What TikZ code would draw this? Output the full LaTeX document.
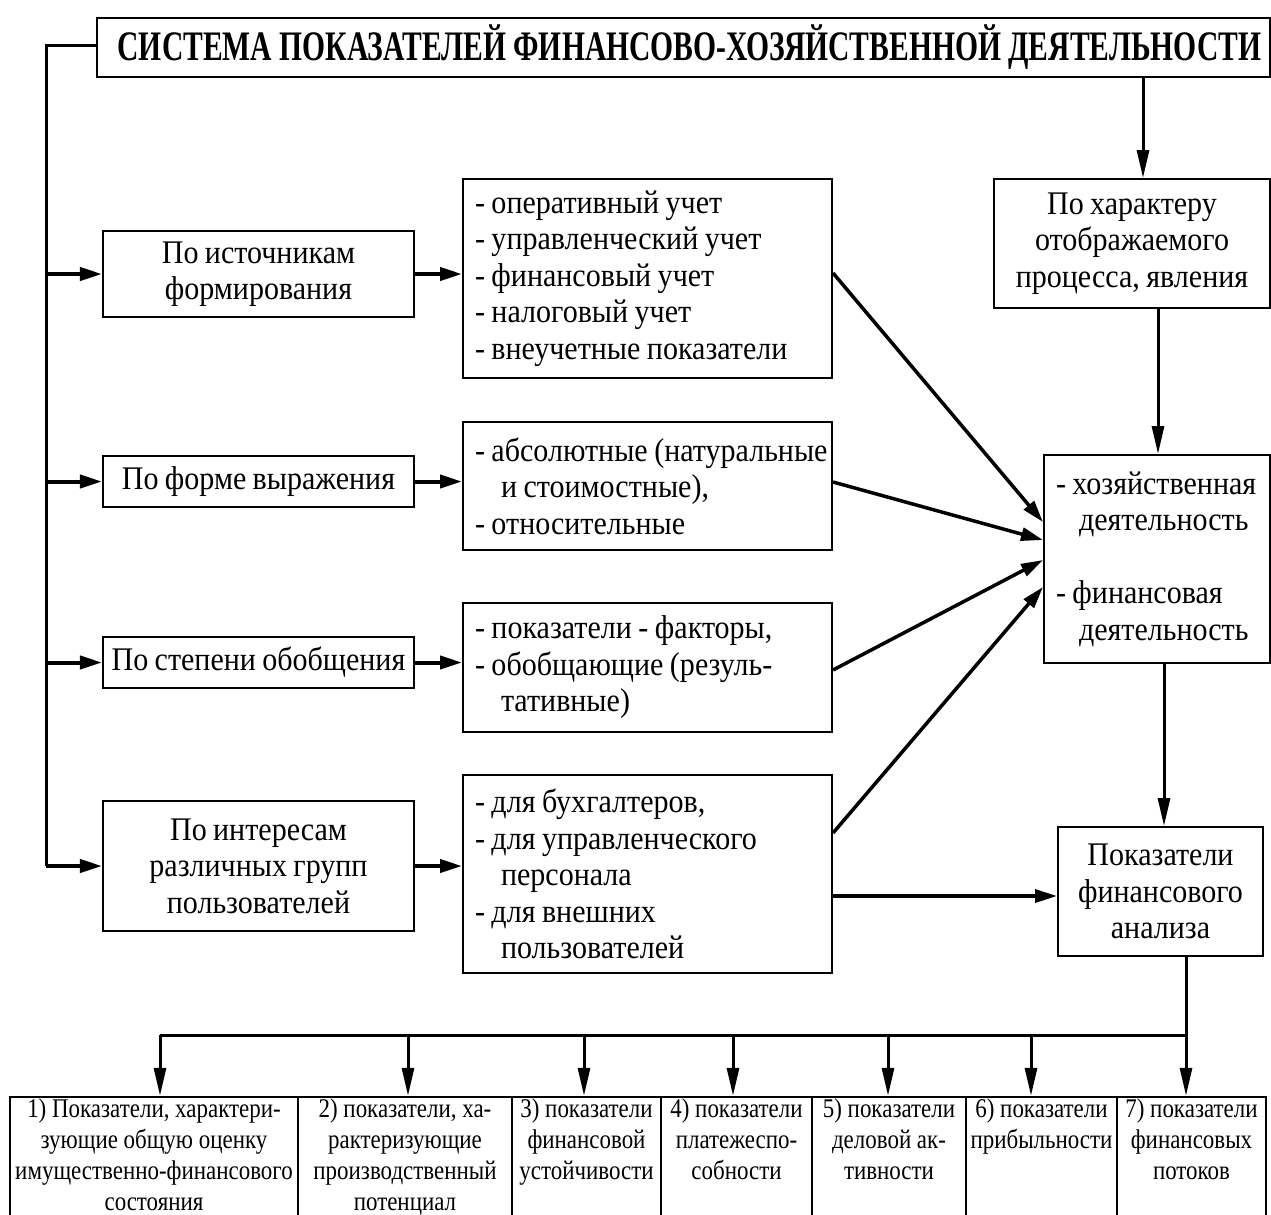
\documentclass[tikz,border=0pt]{standalone}
\usepackage{fontspec}
\setmainfont{Liberation Serif}[FakeStretch=0.91,WordSpace=0.85]
\newfontfamily\titlefont{Liberation Serif}[FakeStretch=0.705]
\newfontfamily\cellfont{Liberation Serif}[FakeStretch=0.85]
\usetikzlibrary{arrows.meta}
\newcommand\LL[1]{\mbox{\spaceskip=6.5bp\relax #1}}
\begin{document}
\begin{tikzpicture}[x=1bp,y=-1bp,
  box/.style={draw, line width=2bp, inner sep=0pt, font=\fontsize{33bp}{36.5bp}\selectfont},
  cbox/.style={box, align=center},
  lbox/.style={box, align=left, text width=345bp, inner xsep=12bp, minimum height=#1},
  cell/.style={draw, line width=2.5bp, inner sep=0pt, minimum height=128bp},
  ctext/.style={anchor=north, align=center, inner sep=0pt, font=\cellfont\fontsize{27bp}{31bp}\selectfont},
  trunkline/.style={line width=3bp},
  harrow/.style={line width=4bp, -{Triangle[length=22bp,width=13bp]}},
  darrow/.style={line width=3.5bp, -{Triangle[length=22bp,width=13bp]}},
  varrow/.style={line width=3bp, -{Triangle[length=28bp,width=12bp]}},
]
\fill[white] (0,0) rectangle (1271,1215);
\useasboundingbox (0,0) rectangle (1271,1215);

% title
\node[box, minimum width=1173bp, minimum height=59bp,
      font=\titlefont\bfseries\fontsize{42bp}{44bp}\selectfont] (title) at (683.5,47.5)
  {\hspace*{12bp}СИСТЕМА ПОКАЗАТЕЛЕЙ ФИНАНСОВО-ХОЗЯЙСТВЕННОЙ ДЕЯТЕЛЬНОСТИ};

% left classification boxes
\node[cbox, minimum width=311bp, minimum height=86bp] (src) at (258.5,274) {По источникам\\формирования};
\node[cbox, minimum width=311bp, minimum height=51bp] (form) at (258.5,481.5) {По форме выражения};
\node[cbox, minimum width=311bp, minimum height=51bp] (gen) at (258.5,662.5) {По степени обобщения};
\node[cbox, minimum width=311bp, minimum height=130bp] (int) at (258.5,866) {По интересам\\различных групп\\пользователей};

% list boxes
\node[lbox=199bp] (l1) at (647.5,278.5) {\LL{- оперативный учет}\\\LL{- управленческий учет}\\\LL{- финансовый учет}\\\LL{- налоговый учет}\\\LL{- внеучетные показатели}};
\node[lbox=128bp] (l2) at (647.5,486) {\LL{- абсолютные (натуральные}\\\LL{\hspace*{26bp}и стоимостные),}\\\LL{- относительные}};
\node[lbox=129bp] (l3) at (647.5,667.5) {\LL{- показатели - факторы,}\\\LL{- обобщающие (резуль-}\\\LL{\hspace*{26bp}тативные)}};
\node[lbox=198bp] (l4) at (647.5,874) {\LL{- для бухгалтеров,}\\\LL{- для управленческого}\\\LL{\hspace*{26bp}персонала}\\\LL{- для внешних}\\\LL{\hspace*{26bp}пользователей}};

% right boxes
\node[cbox, minimum width=276bp, minimum height=129bp] (char) at (1132,243.5) {По характеру\\отображаемого\\процесса, явления};
\node[box, align=left, text width=202bp, inner xsep=12bp, minimum height=208bp] (act) at (1157,559)
  {\LL{- хозяйственная}\\\LL{\hspace*{23bp}деятельность}\\[36.5bp]\LL{- финансовая}\\\LL{\hspace*{23bp}деятельность}};
\node[cbox, minimum width=205bp, minimum height=129bp] (fa) at (1160.5,891.5) {Показатели\\финансового\\анализа};

% bottom row cells
\node[cell, minimum width=288bp] (c1) at (154,1161) {};
\node[cell, minimum width=214bp] (c2) at (405,1161) {};
\node[cell, minimum width=149bp] (c3) at (586.5,1161) {};
\node[cell, minimum width=151bp] (c4) at (736.5,1161) {};
\node[cell, minimum width=154bp] (c5) at (889,1161) {};
\node[cell, minimum width=151bp] (c6) at (1041.5,1161) {};
\node[cell, minimum width=149bp] (c7) at (1191.5,1161) {};
\node[ctext] (t1) at ([yshift=-3bp]c1.north) {1) Показатели, характери-\\зующие общую оценку\\имущественно-финансового\\состояния};
\node[ctext] (t2) at ([yshift=-3bp]c2.north) {2) показатели, ха-\\рактеризующие\\производственный\\потенциал};
\node[ctext] (t3) at ([yshift=-3bp]c3.north) {3) показатели\\финансовой\\устойчивости};
\node[ctext] (t4) at ([yshift=-3bp]c4.north) {4) показатели\\платежеспо-\\собности};
\node[ctext] (t5) at ([yshift=-3bp]c5.north) {5) показатели\\деловой ак-\\тивности};
\node[ctext] (t6) at ([yshift=-3bp]c6.north) {6) показатели\\прибыльности};
\node[ctext] (t7) at ([yshift=-3bp]c7.north) {7) показатели\\финансовых\\потоков};

% trunk on the left
\coordinate (trunk) at (46,45);
\draw[trunkline] (title.west |- trunk) -- (trunk) -- (trunk |- int.west);
\draw[harrow] (trunk |- src.west) -- (src.west);
\draw[harrow] (trunk |- form.west) -- (form.west);
\draw[harrow] (trunk |- gen.west) -- (gen.west);
\draw[harrow] (trunk |- int.west) -- (int.west);

% left boxes to lists
\draw[harrow] (src.east) -- (l1.west |- src.east);
\draw[harrow] (form.east) -- (l2.west |- form.east);
\draw[harrow] (gen.east) -- (l3.west |- gen.east);
\draw[harrow] (int.east) -- (l4.west |- int.east);

% lists to activity box
\draw[darrow] (l1.east |- 0,273) -- (act.west |- 0,522);
\draw[darrow] (l2.east |- 0,482) -- (act.west |- 0,540);
\draw[darrow] (l3.east |- 0,670) -- (act.west |- 0,560);
\draw[darrow] (l4.east |- 0,833) -- (act.west |- 0,587);
\draw[darrow] (l4.east |- 0,896) -- (fa.west |- 0,896);

% right column verticals
\draw[varrow] (title.south -| 1143,0) -- (char.north -| 1143,0);
\draw[varrow] (char.south -| 1158,0) -- (act.north -| 1158,0);
\draw[varrow] (act.south -| 1164,0) -- (fa.north -| 1164,0);

% distribution bus
\coordinate (b1) at (160,1035);
\coordinate (b2) at (408,1035);
\coordinate (b3) at (584,1035);
\coordinate (b4) at (733,1035);
\coordinate (b5) at (888,1035);
\coordinate (b6) at (1031,1035);
\coordinate (b7) at (1186,1035);
\draw[trunkline] (fa.south -| b7) -- (b7);
\draw[trunkline] (b1) -- (b7);
\foreach \k in {1,...,7} {
  \draw[varrow] (b\k) -- (b\k |- c\k.north);
}
\end{tikzpicture}
\end{document}
